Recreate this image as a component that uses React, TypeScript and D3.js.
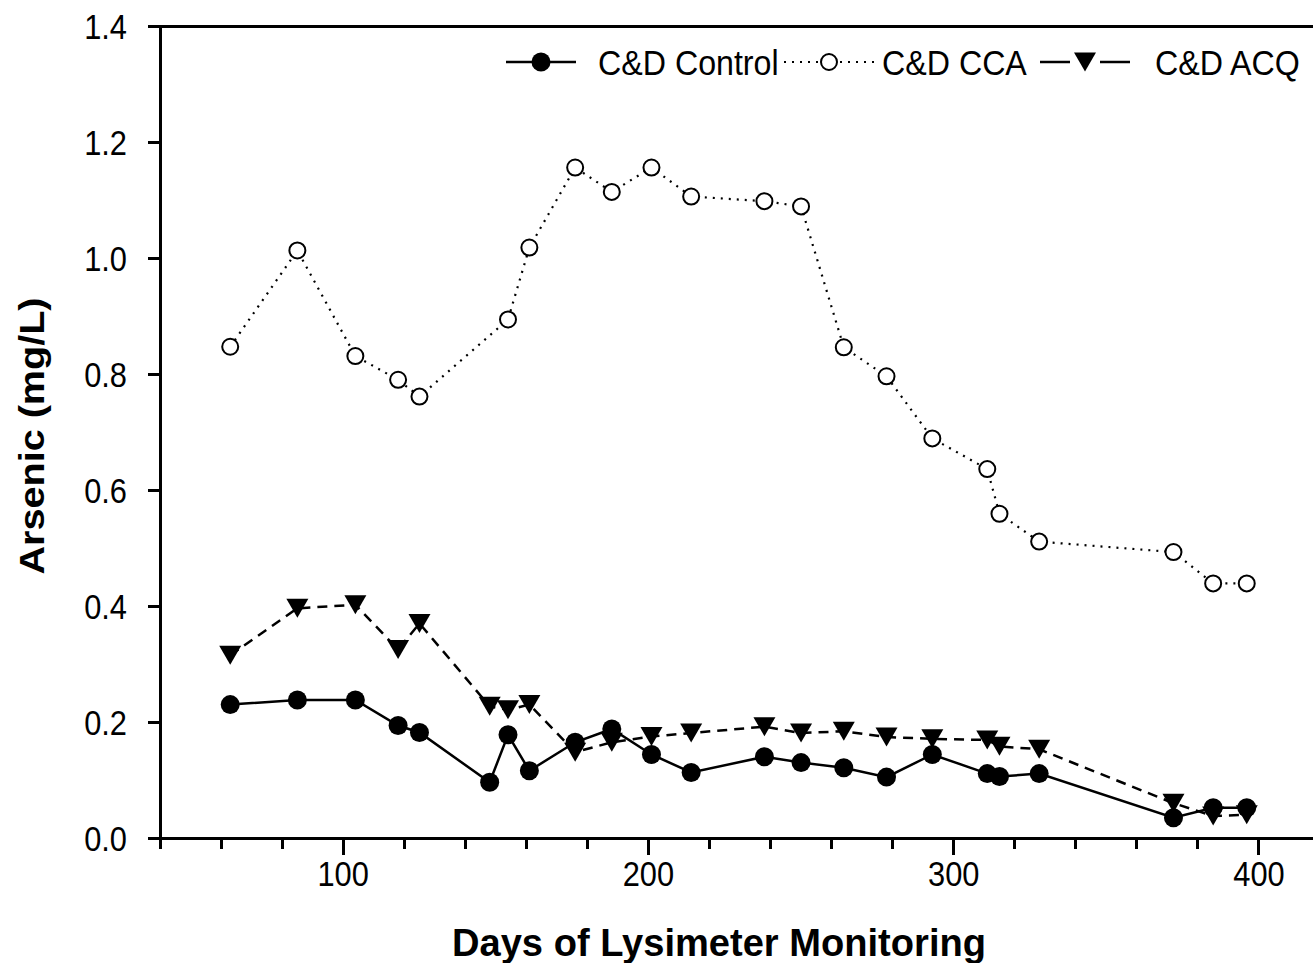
import React, { useEffect, useRef } from 'react'
import * as d3 from 'd3'

// sampling days (same for all three lysimeters)
const days = [63, 85, 104, 118, 125, 148, 154, 161, 176, 188, 201, 214, 238, 250, 264, 278, 293, 311, 315, 328, 372, 385, 396]

// arsenic, mg/L
const controlValues = [0.23, 0.238, 0.238, 0.194, 0.182, 0.096, 0.178, 0.116, 0.165, 0.188, 0.144, 0.113, 0.14, 0.13, 0.121, 0.105, 0.144, 0.111, 0.106, 0.111, 0.035, 0.052, 0.052]
const ccaValues: (number | null)[] = [0.847, 1.013, 0.831, 0.79, 0.761, null, 0.894, 1.018, 1.156, 1.114, 1.156, 1.106, 1.098, 1.089, 0.846, 0.796, 0.689, 0.636, 0.559, 0.511, 0.493, 0.439, 0.439]
const acqValues = [0.315, 0.396, 0.402, 0.325, 0.37, 0.227, 0.221, 0.23, 0.148, 0.165, 0.175, 0.181, 0.192, 0.181, 0.184, 0.174, 0.171, 0.169, 0.158, 0.153, 0.06, 0.038, 0.04]

const seriesNames = ['C&D Control', 'C&D CCA', 'C&D ACQ']
const xTickLabels = [100, 200, 300, 400]
const xMinorTicks = d3.range(40, 420, 20)
const yTickLabels = [0, 0.2, 0.4, 0.6, 0.8, 1.0, 1.2, 1.4]

const WIDTH = 1313
const HEIGHT = 963

const FONT = "'Liberation Sans', Arial, Helvetica, sans-serif"

const App: React.FC = () => {
  const ref = useRef<SVGSVGElement>(null)

  useEffect(() => {
    if (!ref.current) return
    const svg = d3.select(ref.current)
    svg.selectAll('*').remove()

    const x = d3.scaleLinear().domain([40, 420]).range([160, 1320])
    const y = d3.scaleLinear().domain([0, 1.4]).range([838, 26])

    const axes = svg.append('g').attr('stroke', '#000').attr('shape-rendering', 'crispEdges')

    // frame: left axis, bottom axis, top line
    axes.append('line').attr('x1', x(40)).attr('x2', x(40)).attr('y1', y(1.4)).attr('y2', y(0)).attr('stroke-width', 3)
    axes.append('line').attr('x1', x(40) - 12).attr('x2', x(420)).attr('y1', y(0)).attr('y2', y(0)).attr('stroke-width', 3)
    axes.append('line').attr('x1', x(40) - 12).attr('x2', x(420)).attr('y1', y(1.4)).attr('y2', y(1.4)).attr('stroke-width', 3)

    // x ticks
    axes.selectAll('.xt')
      .data(xMinorTicks)
      .enter().append('line')
      .attr('x1', d => x(d)).attr('x2', d => x(d))
      .attr('y1', y(0))
      .attr('y2', d => y(0) + (d % 100 === 0 ? 17 : 11))
      .attr('stroke-width', 3)

    // y ticks
    axes.selectAll('.yt')
      .data(yTickLabels)
      .enter().append('line')
      .attr('x1', x(40) - 12).attr('x2', x(40))
      .attr('y1', d => y(d)).attr('y2', d => y(d))
      .attr('stroke-width', 3)

    const labels = svg.append('g').attr('font-family', FONT).attr('font-size', 35).attr('fill', '#000')

    labels.selectAll('.xl')
      .data(xTickLabels)
      .enter().append('g')
      .attr('transform', d => `translate(${x(d)},886) scale(0.88,1)`)
      .append('text')
      .attr('text-anchor', 'middle')
      .text(d => d)

    labels.selectAll('.yl')
      .data(yTickLabels)
      .enter().append('g')
      .attr('transform', d => `translate(127,${y(d) + 12.5}) scale(0.88,1)`)
      .append('text')
      .attr('text-anchor', 'end')
      .text(d => d3.format('.1f')(d))

    // axis titles
    svg.append('text')
      .attr('x', 719).attr('y', 956)
      .attr('text-anchor', 'middle')
      .attr('font-family', FONT).attr('font-weight', 'bold').attr('font-size', 38)
      .attr('textLength', 534).attr('lengthAdjust', 'spacingAndGlyphs')
      .text('Days of Lysimeter Monitoring')

    svg.append('text')
      .attr('transform', 'translate(44,436) rotate(-90)')
      .attr('text-anchor', 'middle')
      .attr('font-family', FONT).attr('font-weight', 'bold').attr('font-size', 35)
      .attr('textLength', 277).attr('lengthAdjust', 'spacingAndGlyphs')
      .text('Arsenic (mg/L)')

    const line = d3.line<[number, number]>().x(d => x(d[0])).y(d => y(d[1]))

    const controlPts: [number, number][] = days.map((d, i) => [d, controlValues[i]])
    const ccaPts: [number, number][] = days
      .map((d, i) => [d, ccaValues[i]] as [number, number | null])
      .filter(p => p[1] !== null) as [number, number][]
    const acqPts: [number, number][] = days.map((d, i) => [d, acqValues[i]])

    const triangle = 'M-11,-9.5L11,-9.5L0,9.5Z'

    // lines
    svg.append('path').datum(controlPts).attr('d', line).attr('fill', 'none')
      .attr('stroke', '#000').attr('stroke-width', 2.5)
    svg.append('path').datum(ccaPts).attr('d', line).attr('fill', 'none')
      .attr('stroke', '#000').attr('stroke-width', 2.2).attr('stroke-dasharray', '2,6')
    svg.append('path').datum(acqPts).attr('d', line).attr('fill', 'none')
      .attr('stroke', '#000').attr('stroke-width', 2.5).attr('stroke-dasharray', '10,7')

    // markers
    svg.append('g').selectAll('circle')
      .data(controlPts)
      .enter().append('circle')
      .attr('cx', d => x(d[0])).attr('cy', d => y(d[1]))
      .attr('r', 9.5).attr('fill', '#000')

    svg.append('g').selectAll('path')
      .data(acqPts)
      .enter().append('path')
      .attr('transform', d => `translate(${x(d[0])},${y(d[1])})`)
      .attr('d', triangle).attr('fill', '#000')

    svg.append('g').selectAll('circle')
      .data(ccaPts)
      .enter().append('circle')
      .attr('cx', d => x(d[0])).attr('cy', d => y(d[1]))
      .attr('r', 8).attr('fill', '#fff').attr('stroke', '#000').attr('stroke-width', 2)

    // legend
    const ly = 62
    const legend = svg.append('g')
    legend.append('line').attr('x1', 506).attr('x2', 576).attr('y1', ly).attr('y2', ly)
      .attr('stroke', '#000').attr('stroke-width', 2.5)
    legend.append('circle').attr('cx', 541).attr('cy', ly).attr('r', 9.5).attr('fill', '#000')

    legend.append('line').attr('x1', 784).attr('x2', 874).attr('y1', ly).attr('y2', ly)
      .attr('stroke', '#000').attr('stroke-width', 2.2).attr('stroke-dasharray', '2,6')
    legend.append('circle').attr('cx', 829).attr('cy', ly).attr('r', 8)
      .attr('fill', '#fff').attr('stroke', '#000').attr('stroke-width', 2)

    legend.append('line').attr('x1', 1040).attr('x2', 1130).attr('y1', ly).attr('y2', ly)
      .attr('stroke', '#000').attr('stroke-width', 2.5).attr('stroke-dasharray', '30,30')
    legend.append('path').attr('transform', `translate(1085,${ly})`).attr('d', triangle).attr('fill', '#000')

    const legendX = [598, 882, 1155]
    legend.selectAll('.lt')
      .data(seriesNames)
      .enter().append('g')
      .attr('transform', (_, i) => `translate(${legendX[i]},${ly + 12.5}) scale(0.92,1)`)
      .append('text')
      .attr('font-family', FONT).attr('font-size', 35).attr('fill', '#000')
      .text(d => d)
  }, [])

  return (
    <svg
      ref={ref}
      width={WIDTH}
      height={HEIGHT}
      style={{ position: 'absolute', left: 0, top: 0, background: '#fff' }}
    />
  )
}

export default App
